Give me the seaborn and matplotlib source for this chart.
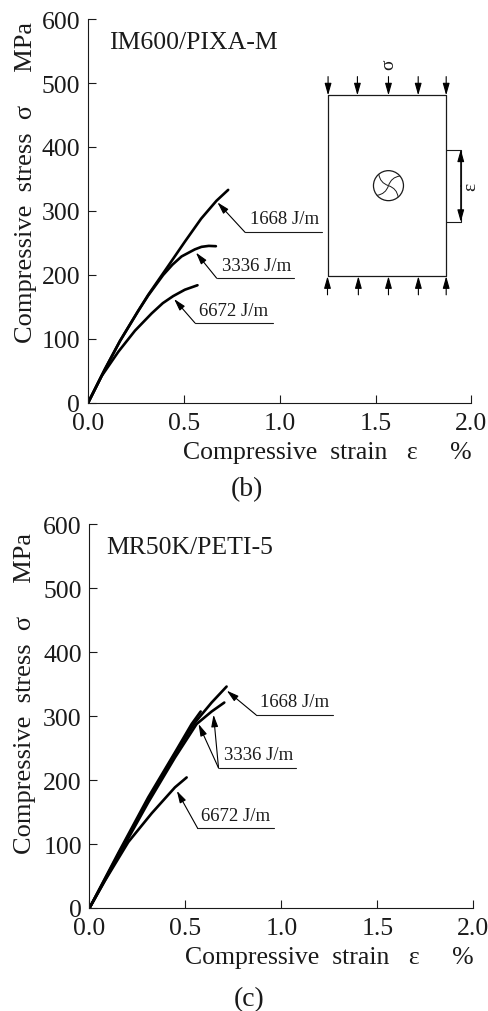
import numpy as np
import pandas as pd
import matplotlib
matplotlib.use("Agg")
import matplotlib.pyplot as plt
from matplotlib.patches import Ellipse, PathPatch
from matplotlib.path import Path
import seaborn as sns

# curves, panel (b)
b_1668_x = [0.0, 0.0885, 0.167, 0.262, 0.314, 0.418, 0.505, 0.59, 0.67, 0.731]
b_1668_y = [0, 53, 97, 144, 169, 214, 252, 288, 316, 333]
b_3336_x = [0.0, 0.0885, 0.167, 0.262, 0.314, 0.392, 0.44, 0.488, 0.557, 0.592, 0.63, 0.667]
b_3336_y = [0, 53, 97, 144, 168, 200, 216, 229, 240, 244, 245.5, 245]
b_6672_x = [0.0, 0.071, 0.158, 0.245, 0.332, 0.39, 0.444, 0.505, 0.571]
b_6672_y = [0, 42, 80, 113, 140, 156, 167, 177, 184]

# panel (c)
c_1668_x = [0.0, 0.15, 0.306, 0.445, 0.55, 0.636, 0.714]
c_1668_y = [0, 84, 170, 241, 290, 321, 346]
c_3336a_x = [0.0, 0.15, 0.306, 0.445, 0.532, 0.579]
c_3336a_y = [0, 86, 173, 243, 287.5, 307]
c_3336b_x = [0.0, 0.15, 0.306, 0.445, 0.558, 0.636, 0.702]
c_3336b_y = [0, 81, 165, 235, 287.5, 307, 321]
c_6672_x = [0.0, 0.081, 0.202, 0.324, 0.445, 0.506]
c_6672_y = [0, 43, 103, 148, 188.5, 204]

x_ticks = [0.0, 0.5, 1.0, 1.5, 2.0]
y_ticks = [0, 100, 200, 300, 400, 500, 600]

W, H = 489, 1012

sns.set_theme(style="ticks")
plt.rcParams["font.family"] = ["Liberation Serif", "DejaVu Serif"]
INK = "#1a1a1a"
HEAD = "-|>,head_length=0.6,head_width=0.17"


def make_frame(curves):
    rows = []
    for name, xs, ys in curves:
        rows.append(pd.DataFrame({"strain": xs, "stress": ys, "curve": name}))
    return pd.concat(rows)


def panel(rect, curves, name, name_xy, caption, cap_y, ylab_x, ylab_top):
    left, right, top, bottom = rect
    ax = fig.add_axes([left / W, 1 - bottom / H, (right - left) / W, (bottom - top) / H])
    df = make_frame(curves)
    sns.lineplot(data=df, x="strain", y="stress", units="curve", estimator=None,
                 sort=False, color="black", lw=1.9, ax=ax, legend=False)
    ax.set_xlim(0, 2)
    ax.set_ylim(0, 600)
    ax.set_xticks(x_ticks)
    ax.set_xticklabels(["%.1f" % t for t in x_ticks])
    ax.set_yticks(y_ticks)
    ax.tick_params(direction="in", length=6, width=0.8, color=INK, labelcolor=INK,
                   labelsize=18.5)
    ax.tick_params(axis="x", pad=6.5)
    ax.tick_params(axis="y", pad=5.5)
    sns.despine(ax=ax)
    for s in ["left", "bottom"]:
        ax.spines[s].set_linewidth(0.8)
        ax.spines[s].set_color(INK)
    ax.set_xlabel("")
    ax.set_ylabel("")
    ax.text(2.0, -86, "Compressive  strain   \u03b5     %", ha="right", va="baseline",
            fontsize=18.5, color=INK, clip_on=False)
    ax.text(ylab_x, ylab_top, "Compressive  stress  \u03c3     MPa", rotation=90, ha="center",
            va="top", fontsize=19, color=INK, clip_on=False)
    ax.text(name_xy[0], name_xy[1], name, ha="left", va="center", fontsize=18.5, color=INK)
    ax.text(0.83, cap_y, caption, ha="center", va="center", fontsize=20, color=INK, clip_on=False)
    return ax


def leader(ax, tips, elbow, end, label, label_xy):
    ax.plot([elbow[0], end], [elbow[1], elbow[1]], color=INK, lw=0.8)
    for tip in tips:
        ax.annotate("", xy=tip, xytext=elbow,
                    arrowprops=dict(arrowstyle=HEAD, color="black", lw=0.8, shrinkA=0, shrinkB=0))
    ax.text(label_xy[0], label_xy[1], label, ha="left", va="center", fontsize=13.5, color=INK)


def v_arrow(ax, x, y0, y1):
    ax.annotate("", xy=(x, y1), xytext=(x, y0), annotation_clip=False,
                arrowprops=dict(arrowstyle=HEAD, color="black", lw=0.8, shrinkA=0, shrinkB=0))


def schematic(ax):
    l, r, t, b = 1.252, 1.868, 480.7, 198
    ax.plot([l, r, r, l, l], [t, t, b, b, t], color=INK, lw=0.9)
    for x in [1.252, 1.405, 1.567, 1.722, 1.868]:
        v_arrow(ax, x, 510, t)
    for x in [1.249, 1.41, 1.567, 1.723, 1.868]:
        v_arrow(ax, x, 169, b)
    ax.plot([r, 1.944, 1.944, r], [396, 396, 283, 283], color=INK, lw=0.8)
    v_arrow(ax, 1.944, 339, 396)
    v_arrow(ax, 1.944, 339, 283)
    ax.text(1.567, 530, "\u03c3", rotation=90, ha="center", va="center", fontsize=14, color=INK)
    ax.text(1.995, 340, "\u03b5", rotation=90, ha="center", va="center", fontsize=14,
            color=INK, clip_on=False)
    # fibre symbol in the middle
    cx, cy = 1.567, 339.6
    sx, sy = 2 / 383.5, 600 / 384
    ax.add_patch(Ellipse((cx, cy), 30 * sx, 30 * sy, fill=False, ec=INK, lw=0.9))
    for a in np.radians([20, 110, 200, 290]):
        pts = []
        for dist, off in [(0, 0), (9, 0.9), (15, 0.35)]:
            pts.append((cx + dist * np.cos(a + off) * sx, cy + dist * np.sin(a + off) * sy))
        ax.add_patch(PathPatch(Path(pts, [Path.MOVETO, Path.CURVE3, Path.CURVE3]),
                               fill=False, ec=INK, lw=0.7))


fig = plt.figure(figsize=(W / 100, H / 100), dpi=100)

ax1 = panel((88, 471.5, 20, 404),
            [("1668", b_1668_x, b_1668_y), ("3336", b_3336_x, b_3336_y), ("6672", b_6672_x, b_6672_y)],
            "IM600/PIXA-M", (0.111, 563.5), "(b)", -134, -0.324, 597)
leader(ax1, [(0.675, 313.5)], (0.819, 266.7), 1.219, "1668 J/m", (0.845, 288.5))
leader(ax1, [(0.563, 235)], (0.671, 195), 1.075, "3336 J/m", (0.697, 214.6))
leader(ax1, [(0.449, 162.5)], (0.558, 125), 0.963, "6672 J/m", (0.581, 144))
schematic(ax1)

ax2 = panel((89.5, 473.5, 525, 909),
            [("1668", c_1668_x, c_1668_y), ("3336a", c_3336a_x, c_3336a_y),
             ("3336b", c_3336b_x, c_3336b_y), ("6672", c_6672_x, c_6672_y)],
            "MR50K/PETI-5", (0.09, 564.5), "(c)", -142, -0.335, 587)
leader(ax2, [(0.715, 339.6)], (0.868, 301.6), 1.267, "1668 J/m", (0.889, 323))
leader(ax2, [(0.568, 287.5), (0.646, 302)], (0.672, 218.8), 1.073, "3336 J/m", (0.701, 239.6))
leader(ax2, [(0.455, 183)], (0.5625, 125), 0.962, "6672 J/m", (0.582, 144))

fig.savefig("out.png", dpi=100)
